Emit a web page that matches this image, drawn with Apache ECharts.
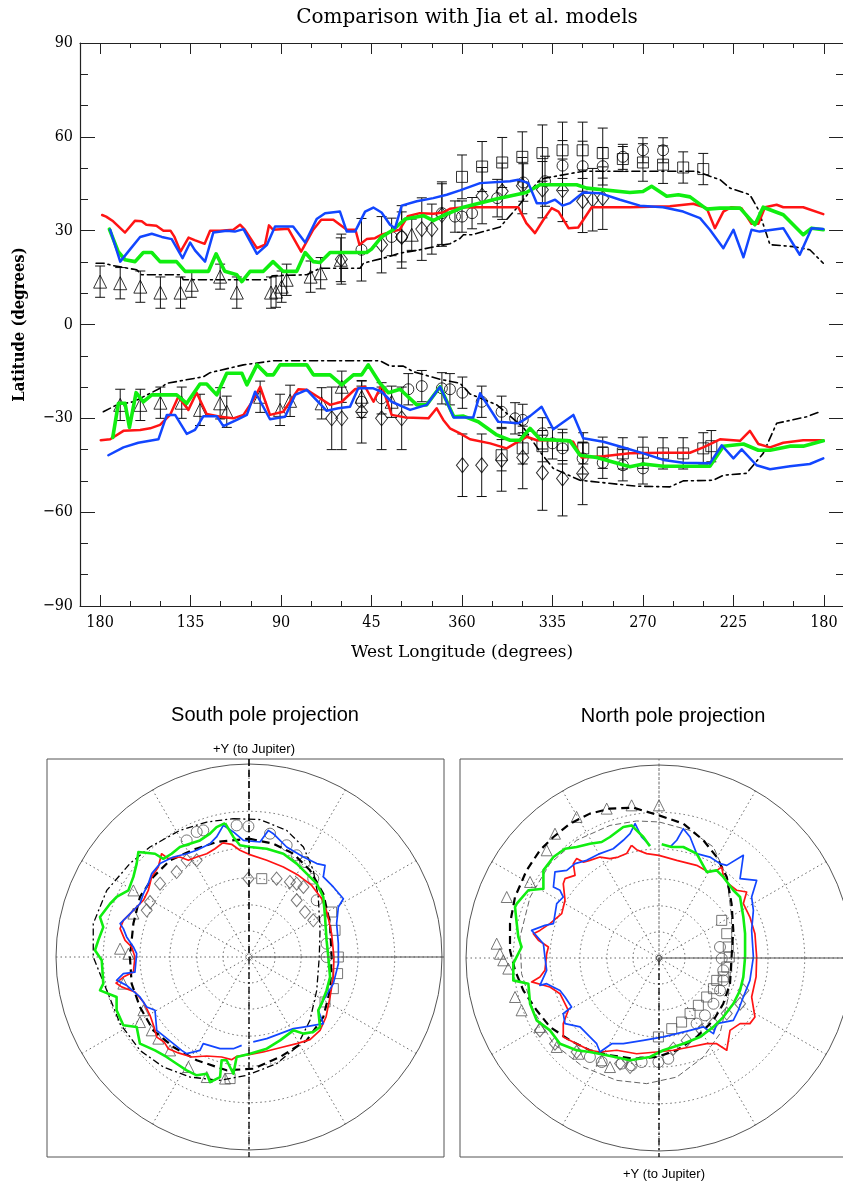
<!DOCTYPE html>
<html>
<head>
<meta charset="utf-8">
<script src="https://cdn.jsdelivr.net/npm/echarts@6/dist/echarts.min.js"></script>
<style>
  html, body { margin: 0; padding: 0; background: #fff; }
  #chart { width: 843px; height: 1183px; }
</style>
</head>
<body>
<div id="chart"></div>
<script>
// ---------------- Latitude vs. longitude panel ----------------
// x values: degrees eastward along the axis from 180°W (0 = 180°W at left, 180 = 0°/360°W, 360 = 180°W at right)
const lonTickPos = [0, 45, 90, 135, 180, 225, 270, 315, 360];
const lonTickLabels = ['180', '135', '90', '45', '360', '335', '270', '225', '180'];
const lonMinorPos = [15, 30, 60, 75, 105, 120, 150, 165, 195, 210, 240, 255, 285, 300, 330, 345];

// Northern oval boundary, model curves [x, latitude]
const nRed = [[1,35],[3,34.5],[6.5,33],[12.4,29.4],[17.4,33.2],[20.7,33],[23,31.9],[28,31.6],[31.5,30],[35,30],[37,28],[40,23.3],[44,27.8],[47,27],[52,25.8],[54.7,30],[59.7,30],[66.3,30.3],[69.6,31.9],[72,30.3],[78,24.4],[82,25.5],[84,31.7],[86,30.3],[93.6,30.6],[100,23.3],[106,30.3],[110,33.5],[116,33.5],[122.7,30.3],[127,30.3],[129,25.5],[132.6,27.3],[136.7,27.6],[140,28.7],[145,29.7],[149,30.3],[153,34.6],[159,35.6],[165.7,35.4],[170.6,35.8],[174,37],[180.7,37.5],[192,37.5],[208,37.5],[212,32.4],[216.3,29.2],[220.5,33.5],[224.6,37.2],[228,36.1],[233,30.8],[237.8,31],[244.5,37.5],[263.5,37.5],[283.4,37.8],[295,38.6],[301.7,37.2],[305.8,30.8],[310,36.1],[314,37.5],[319,37.2],[324,32.2],[327.4,32.2],[330.7,37.5],[336.5,38.3],[339.8,37.5],[349.7,37.5],[359.7,35.3]];
const nGreen = [[4.6,30.5],[9,23.3],[12.4,20.7],[17.4,20.1],[21.5,23],[25.7,23],[29.8,20.1],[38,20.1],[42.3,17],[53.9,17],[57.7,22.6],[62,17],[68,15.9],[70.5,13.7],[74.6,17],[81.2,17],[86,20.1],[91,17],[97.8,17],[102,23],[106,20.1],[109.4,19.8],[114.4,23],[132.6,23],[135,24.1],[140,28],[145.8,30.3],[151.7,33.7],[160.8,34.8],[165.7,33.2],[171.6,35.1],[180.7,37.5],[197,40.1],[212,42.2],[218.8,44.7],[237,44.7],[242,43.6],[263.5,42.2],[270,42.5],[274.3,44.2],[281.8,41],[287.6,41.5],[293.4,40.8],[301.7,36.9],[308.3,37.2],[318.3,37.2],[325.7,31.9],[329.8,37.5],[339.8,35.1],[349.7,28.7],[353.9,30.8],[359.7,30.3]];
const nBlue = [[5,30.3],[10,20.1],[15,24.1],[19.9,28],[25.7,29],[30.7,28],[35.6,27.3],[41,21.2],[44.8,26.2],[47.2,23.7],[52.2,20.1],[56.3,29.4],[63,30],[67,29.7],[71.3,30.5],[78,22.6],[83,25.5],[87,31.3],[96,31.3],[102,26.2],[107.7,33.7],[111.9,35.6],[119.3,36.1],[122.7,29.7],[126.8,29.7],[131.8,36.1],[135.9,37.4],[140,35.8],[144.2,31.9],[146.7,30.8],[150,38],[157.5,39.4],[165.7,40.4],[172.4,41.5],[179,42.9],[189,45.2],[203.9,45.8],[208,46.3],[213,45.2],[217.2,38.8],[222,38.8],[226.3,39.9],[230,38],[233.7,38.8],[240.3,42.2],[248.6,42],[258.6,39.9],[268.5,38],[280,37.5],[290,36.1],[298.4,34],[303.3,30.3],[310,24.4],[315,30.3],[320,21.5],[324,30.3],[328,29.7],[339.8,30.8],[348,22.3],[353.9,30.8],[359.7,30.5]];
const nDashDot = [[-2,19.6],[1.6,19.6],[6.6,18.8],[18.2,17.5],[20.7,15.9],[40,15.9],[41.4,14.3],[83,14.3],[86,15.6],[102.8,15.9],[109.4,18],[129.3,18],[131,19.6],[142.6,21.5],[149,22.8],[157.5,23.7],[169,25.2],[174,25.8],[179,27.5],[180.7,28.7],[185,28.7],[199,31.2],[208,37.8],[213.8,42.6],[218.8,46.3],[221.3,46.8],[240.3,49],[296.7,49],[303.3,47.4],[308.3,46.3],[313.3,43.6],[323.2,41.5],[327.4,36.7],[333.2,25.5],[344.8,24.9],[353,23.9],[359.7,19.6]];

// Northern observations [x, latitude, error]
const nTriangles = [[0,13.7,5],[10,13.2,5],[20,12.1,5],[30,10.2,5],[40,10.2,5],[45.6,12.7,4],[59.7,15.3,4],[68,10.2,5],[85,10.2,5],[87.5,10.5,5],[90.3,12.1,5],[92.8,14.3,5],[104.7,15.3,5],[109.7,16.4,5],[119.7,20.7,7],[155,28.7,5]];
const nDiamonds = [[120,20.9,8],[140,25.5,9],[150,28,10],[160,30.5,10],[165,30.5,8],[170,35,10],[190,41.2,9],[200,42.6,9],[210,44.4,9],[220,43.1,9],[230,42.9,10],[240,39.4,10],[245,39.9,10],[250,40.4,10]];
const nCircles = [[130,23.9,10],[145,28,6],[150,28,8],[170,35.6,10],[176.5,34.5,5],[180,34.5,5],[185,35.6,5],[197.5,40.4,6],[210.5,45.4,6],[221.3,45.8,8],[230,50.8,8],[240,50.6,8],[250,50.6,6],[260,53.6,4],[270,55.7,4],[280,55.7,4]];
const nSquares = [[180,47.2,7],[190,50.5,8],[200,51.8,8],[210,53.6,8],[220,54.8,9],[230,55.7,9],[240,55.7,9],[250,54.8,8],[260,52.9,4],[270,51.8,6],[280,51.1,6],[290,50.2,5],[300,49.7,5]];

// Southern oval boundary, model curves [x, latitude]
const sRed = [[0.3,-37],[5,-36.7],[11.6,-34],[19.9,-33.7],[24.9,-33.2],[29.8,-32.1],[34.8,-28.9],[38.9,-23.1],[43.9,-27.3],[48,-21.8],[53,-28.6],[59.7,-29.5],[66.3,-30],[71.3,-28.9],[76.2,-24.1],[79.6,-19.9],[84.5,-28.9],[91.1,-27.9],[98.6,-20.7],[102.8,-20.9],[109.4,-23.6],[114.4,-25.7],[120.2,-24.7],[126.8,-20.7],[131.8,-19.9],[136,-24.7],[140,-19.3],[145,-28.9],[151.7,-29.7],[163.3,-30],[167.4,-26.8],[170.7,-30.5],[174,-33.2],[179,-34.8],[184,-36.7],[194,-38],[202.2,-39.6],[206.4,-38],[212.2,-35.9],[217.2,-37],[230.4,-37],[235.3,-37.5],[239.5,-42.5],[250.3,-42.1],[263.5,-41.2],[280,-41],[293.4,-41],[300,-39.3],[308.3,-36.7],[318.3,-37.2],[323.2,-34],[327.4,-38.2],[333.2,-39.3],[339.8,-37.8],[349.7,-37],[359.7,-37]];
const sGreen = [[6.3,-36.1],[9.1,-25.2],[12.4,-25.2],[14.6,-32.9],[17.9,-21.8],[21.5,-24.7],[25.7,-22.5],[38.1,-22.5],[43.1,-25.2],[49.7,-19],[53,-19],[58,-22.5],[63,-15.6],[70.5,-15.6],[73,-19.3],[78,-12.9],[83,-16.1],[86.2,-16.1],[89.5,-12.9],[102.8,-12.9],[106.1,-16.1],[114.4,-16.1],[120.2,-19.3],[126,-16.1],[130.1,-16.1],[133.4,-12.9],[139.2,-18.8],[143.4,-21.8],[149.2,-20.7],[157.5,-25.7],[162.4,-25.7],[169.1,-19.9],[175.9,-29.5],[180.7,-29.3],[188.1,-31.1],[197.3,-35.3],[203.9,-37],[208.8,-37],[213.8,-33.2],[218.8,-36.7],[233.7,-37.2],[238.7,-41.8],[247,-42.5],[263.5,-45.5],[270.2,-44.6],[280.2,-45.3],[303.3,-45.3],[310,-38.9],[320,-38.2],[327.4,-40.2],[333.2,-40.2],[343.1,-38.9],[349.7,-38.9],[359.7,-37.2]];
const sBlue = [[4.1,-41.8],[11.6,-39.3],[19,-37.8],[29,-36.7],[33.2,-28.9],[37.3,-28.9],[43.1,-35],[47.2,-33.7],[51.4,-29.3],[58,-29.3],[61.3,-32.5],[68,-30.5],[73,-28.9],[77.1,-21.5],[84.5,-30.3],[92,-29.5],[97,-22.5],[102.8,-20.9],[112.7,-27.6],[118.5,-26.8],[124.3,-26.3],[128.4,-20.4],[135.9,-20.4],[140,-21.5],[145,-24.7],[154.2,-27.3],[162.4,-25.7],[169.1,-19.9],[175.9,-29.7],[185.6,-29.7],[189,-22],[198,-31.1],[208,-31.6],[213.8,-29.3],[219.6,-26.3],[225.4,-33.5],[235.4,-28.9],[240.3,-36.4],[250.3,-37.5],[260.3,-39.3],[270.2,-41.2],[280.2,-43.3],[290,-44.2],[303.3,-44.4],[309.2,-38.6],[315,-42.8],[319.1,-39.9],[326.5,-45],[333.2,-46.3],[343.1,-45.3],[353,-44.6],[359.7,-42.8]];
const sDashDot = [[1.6,-27.9],[8.3,-25.7],[16.6,-24.7],[29.8,-20.4],[33.2,-18.8],[51.4,-16.7],[54.7,-15.4],[71.3,-12.9],[86.2,-11.6],[139.2,-11.6],[144.2,-13.3],[150.8,-13.3],[155.8,-15.1],[169.1,-17.5],[179,-18.8],[184,-22.2],[197.3,-25.7],[210.5,-32.9],[218.8,-40.7],[225.4,-46],[238.7,-49.8],[266.8,-51.7],[283.4,-51.9],[290,-50],[305,-49.8],[310,-48.2],[321.5,-47.6],[329.8,-41.2],[336.5,-31.6],[351.4,-29.5],[358,-27.9]];

// Southern observations [x, latitude, error]
const sTriangles = [[10,-25.7,5],[20,-25.7,5],[30,-25,5],[40.6,-25,5],[49.7,-27.3,5],[59.7,-25.2,5],[63,-27.9,5],[79.6,-23.1,5],[89.5,-27.3,5],[94.5,-24.4,5],[110.2,-25.2,5],[120.2,-19.9,5],[130.1,-23.1,5],[145,-24.7,5]];
const sDiamonds = [[115.2,-30,10],[120.2,-30,10],[130.1,-27.9,10],[140,-30,10],[150,-30,10],[180.2,-45,10],[189.8,-45,10],[199.7,-43.3,10],[210.2,-42.5,10],[220,-47.4,12],[230,-49.2,12],[240,-47.6,10]];
const sCircles = [[130,-24.7,5],[140,-23.6,5],[153.3,-20.7,5],[160,-19.7,5],[170,-20.4,5],[174,-20.7,5],[180.2,-21.8,5],[189.8,-24.7,5],[199.7,-27.9,5],[206.4,-30,5],[210.2,-30.5,5],[220,-34.8,5],[225,-38,5],[230,-39.6,5],[240,-42.8,5],[250,-44.2,5],[260,-45,5],[270,-46,5]];
const sSquares = [[199.7,-41.8,5],[210.2,-39.6,5],[220,-38.9,5],[230,-38.5,5],[240.3,-39.6,5],[250,-41,5],[260,-41.2,5],[270,-41,5],[280,-41.2,5],[290,-41.2,5],[300,-39.6,5],[304,-38.9,5]];

// ---------------- Polar projections ----------------
// Points are projected map coordinates [x, y] in thousandths of the outer circle radius
// (+x to the right, +y toward Jupiter in the south view / away from it in the north view).
const polarRings = [0.135, 0.27, 0.41, 0.565, 0.755];

const spRed = [[-136,591],[-90,584],[-47,553],[0,532],[92,501],[178,466],[256,423],[325,371],[377,302],[406,225],[428,121],[440,0],[437,-104],[420,-207],[399,-311],[368,-380],[316,-428],[247,-449],[161,-470],[74,-492],[0,-506],[-64,-515],[-90,-532],[-142,-518],[-219,-513],[-297,-518],[-366,-497],[-418,-475],[-440,-440],[-478,-415],[-492,-363],[-513,-302],[-547,-233],[-591,-181],[-660,-155],[-689,-135],[-651,-104],[-599,-78],[-591,0],[-608,52],[-642,86],[-668,147],[-651,190],[-599,242],[-547,294],[-522,345],[-504,415],[-470,466],[-453,535],[-418,510],[-358,518],[-314,501],[-271,518],[-219,535],[-176,561]];
const spGreen = [[-124,694],[-81,622],[-47,579],[5,570],[92,561],[178,535],[247,484],[299,432],[351,380],[385,311],[394,207],[402,86],[411,0],[420,-104],[402,-173],[376,-242],[359,-276],[368,-363],[333,-389],[282,-397],[230,-380],[161,-432],[92,-475],[5,-501],[-64,-518],[-81,-605],[-116,-535],[-142,-535],[-150,-622],[-202,-648],[-219,-605],[-271,-613],[-323,-587],[-375,-553],[-427,-518],[-487,-484],[-565,-449],[-582,-363],[-651,-354],[-686,-276],[-686,-207],[-772,-173],[-755,-138],[-763,-17],[-798,35],[-781,86],[-755,155],[-772,207],[-720,276],[-686,311],[-625,345],[-599,415],[-582,484],[-573,544],[-487,535],[-444,509],[-401,535],[-358,570],[-306,587],[-254,604],[-202,639],[-168,673]];
const spBlue = [[22,-440],[92,-423],[161,-397],[230,-371],[282,-363],[385,-345],[359,-276],[385,-225],[437,-138],[463,-35],[463,69],[454,173],[463,259],[489,302],[437,363],[385,415],[394,475],[351,484],[282,518],[195,570],[126,639],[100,656],[57,596],[-29,604],[-81,648],[-133,682],[-168,622],[-202,587],[-271,553],[-323,535],[-392,518],[-427,501],[-461,484],[-504,432],[-522,380],[-547,328],[-565,276],[-634,207],[-668,173],[-651,147],[-634,104],[-599,52],[-582,17],[-591,-78],[-651,-86],[-686,-121],[-634,-147],[-565,-207],[-530,-259],[-487,-276],[-478,-380],[-392,-449],[-349,-484],[-323,-501],[-254,-484],[-237,-449],[-150,-475],[-81,-475],[-38,-458]];
const spDashed = [[0,613],[126,587],[230,535],[316,449],[385,328],[420,173],[428,0],[420,-173],[385,-311],[299,-432],[161,-518],[22,-579],[-116,-587],[-271,-535],[-392,-466],[-496,-380],[-565,-259],[-608,-138],[-617,0],[-599,173],[-565,311],[-496,415],[-409,501],[-288,556],[-168,596]];
const spDashDot = [[-81,717],[57,712],[195,656],[282,570],[333,449],[359,311],[368,138],[364,0],[351,-173],[316,-328],[247,-466],[143,-553],[-12,-613],[-150,-639],[-306,-622],[-444,-570],[-565,-484],[-668,-345],[-737,-173],[-807,0],[-807,173],[-737,345],[-617,484],[-513,570],[-358,656],[-219,699]];
const spCircles = [[-323,604],[-271,648],[-237,656],[-64,682],[-3,677],[109,639],[195,579],[247,527],[290,492],[333,406],[351,294],[394,190],[402,69],[402,0]];
const spSquares = [[66,406],[428,233],[446,138],[463,0],[459,-86],[437,-164],[394,-233],[-98,-630]];
const spDiamonds = [[-3,406],[143,406],[212,389],[247,380],[282,363],[247,294],[290,233],[333,190],[-375,440],[-323,501],[-271,501],[-461,380],[-513,285],[-530,242]];
const spTriangles = [[-599,345],[-599,225],[-668,43],[-625,17],[-651,-138],[-547,-276],[-565,-337],[-504,-380],[-470,-423],[-409,-484],[-314,-570],[-219,-622],[-124,-630]];

const npRed = [[-142,584],[-116,561],[-64,541],[0,532],[92,506],[195,480],[256,446],[299,454],[325,471],[333,428],[359,385],[402,351],[454,342],[437,282],[471,212],[497,126],[506,5],[503,-98],[480,-202],[497,-306],[471,-340],[420,-340],[368,-375],[351,-478],[299,-444],[247,-444],[161,-461],[74,-478],[-12,-487],[-116,-496],[-219,-478],[-306,-487],[-358,-478],[-427,-444],[-496,-409],[-496,-340],[-470,-271],[-513,-185],[-565,-150],[-660,-124],[-617,-98],[-591,-64],[-582,22],[-573,57],[-625,92],[-651,126],[-617,143],[-565,178],[-504,230],[-487,299],[-496,385],[-487,411],[-435,428],[-444,489],[-427,515],[-392,497],[-358,506],[-306,523],[-254,515],[-211,523],[-168,541]];
const npBlue = [[-47,584],[-90,627],[-124,696],[-150,644],[-185,610],[-237,566],[-306,541],[-375,506],[-435,489],[-478,454],[-539,446],[-547,368],[-513,351],[-496,316],[-530,282],[-547,178],[-591,169],[-660,143],[-599,74],[-591,5],[-582,-64],[-617,-142],[-582,-133],[-513,-168],[-487,-202],[-453,-254],[-496,-288],[-487,-340],[-409,-357],[-358,-409],[-323,-444],[-306,-487],[-245,-444],[-185,-444],[-81,-427],[22,-409],[92,-392],[161,-375],[230,-357],[282,-392],[299,-340],[385,-323],[411,-271],[437,-202],[471,-116],[489,5],[480,143],[489,247],[480,316],[506,402],[420,411],[437,532],[351,480],[316,489],[264,523],[195,541],[161,627],[126,670],[92,610],[57,575]];
const npGreen = [[-47,579],[-81,627],[-116,661],[-142,687],[-185,679],[-254,627],[-297,601],[-358,592],[-427,575],[-487,566],[-547,523],[-599,454],[-599,359],[-677,351],[-737,282],[-746,264],[-737,178],[-729,109],[-712,57],[-755,-29],[-755,-116],[-677,-133],[-668,-237],[-634,-323],[-565,-375],[-513,-444],[-427,-478],[-358,-487],[-271,-504],[-150,-530],[-47,-513],[22,-478],[126,-444],[212,-409],[282,-357],[333,-306],[385,-237],[420,-168],[437,-98],[446,5],[446,126],[437,212],[420,316],[385,351],[333,420],[299,454],[247,446],[195,541],[126,575],[66,575],[14,589]];
const npDashed = [[0,739],[126,696],[230,610],[299,523],[351,420],[376,282],[385,143],[376,5],[368,-133],[333,-237],[282,-323],[195,-409],[92,-478],[-12,-513],[-133,-522],[-254,-504],[-358,-478],[-461,-427],[-565,-357],[-634,-271],[-703,-168],[-746,-64],[-772,40],[-772,178],[-746,316],[-686,454],[-617,558],[-547,627],[-461,696],[-358,748],[-254,774],[-133,779]];
const npThin = [[0,705],[161,661],[282,575],[351,420],[376,212],[376,5],[359,-202],[316,-392],[230,-513],[92,-617],[-64,-651],[-219,-634],[-392,-565],[-547,-444],[-651,-271],[-712,-81],[-720,109],[-668,316],[-565,489],[-427,610],[-254,687],[-116,710]];
const npTriangles = [[-142,791],[0,791],[-271,774],[-427,731],[-539,644],[-582,558],[-668,394],[-789,316],[-841,74],[-824,22],[-807,-12],[-781,-55],[-746,-202],[-712,-271],[-617,-357],[-530,-461],[-418,-496],[-297,-530],[-254,-565]];
const npSquares = [[325,195],[351,126],[359,57],[364,5],[351,-47],[333,-98],[299,-116],[282,-159],[247,-202],[204,-245],[161,-288],[117,-332],[66,-366],[-3,-409]];
const npCircles = [[316,57],[325,-3],[333,-64],[333,-116],[316,-168],[282,-237],[238,-297],[195,-340],[-358,-513],[-297,-539],[-193,-547],[-142,-556],[-90,-539],[-3,-539],[48,-522]];
const npDiamonds = [[437,-168],[420,-237],[351,-288],[282,-340],[221,-375],[143,-427],[74,-470],[-150,-565],[-202,-547],[-427,-487],[-539,-444],[-617,-375]];

// ---------------- Layout & styles ----------------
const SERIF = 'DejaVu Serif Condensed, DejaVu Serif, serif';
const SANS = 'Liberation Sans, Arial, sans-serif';
const RED = '#ff1414', GREEN = '#10ee10', BLUE = '#1246ff';
const GRID = { left: 80, top: 43, width: 764, height: 563 };
const SOUTH = { cx: 249, cy: 957, r: 193, box: [47, 759, 397, 398] };
const NORTH = { cx: 659, cy: 958, r: 193, box: [460, 759, 404, 398] };

const chart = echarts.init(document.getElementById('chart'), null, { renderer: 'canvas' });

function lineSeries(data, color, width, type, z) {
  return {
    type: 'line', xAxisIndex: 0, yAxisIndex: 0, data: data,
    showSymbol: false, symbol: 'none', silent: true, animation: false, z: z || 3,
    lineStyle: { color: color, width: width, type: type || 'solid', cap: 'round', join: 'round' }
  };
}
function errorBars(data) {
  return {
    type: 'custom', xAxisIndex: 0, yAxisIndex: 0, data: data, silent: true, animation: false, z: 1,
    encode: { x: 0, y: 1 },
    renderItem: function (params, api) {
      const x = api.value(0), y = api.value(1), e = api.value(2);
      const hi = api.coord([x, y + e]);
      const lo = api.coord([x, y - e]);
      const w = 5;
      const st = { stroke: '#111', lineWidth: 1 };
      return {
        type: 'group', children: [
          { type: 'line', shape: { x1: hi[0], y1: hi[1], x2: lo[0], y2: lo[1] }, style: st },
          { type: 'line', shape: { x1: hi[0] - w, y1: hi[1], x2: hi[0] + w, y2: hi[1] }, style: st },
          { type: 'line', shape: { x1: lo[0] - w, y1: lo[1], x2: lo[0] + w, y2: lo[1] }, style: st }
        ]
      };
    }
  };
}
function markers(data, symbol, size) {
  return {
    type: 'scatter', xAxisIndex: 0, yAxisIndex: 0, silent: true, animation: false, z: 2,
    data: data.map(d => [d[0], d[1]]), symbol: symbol, symbolSize: size,
    itemStyle: { color: 'rgba(255,255,255,0)', borderColor: '#000', borderWidth: 1 }
  };
}

// projected [x, y] (thousandths of radius) -> [radius, angle]
function toPolar(pts, closed) {
  const out = pts.map(p => {
    const r = Math.hypot(p[0], p[1]) / 1000;
    const a = (Math.atan2(p[1], p[0]) * 180 / Math.PI + 360) % 360;
    return [r, a];
  });
  if (closed) out.push(out[0]);
  return out;
}
function polarLine(pts, closed, polarIndex, color, width, type, z) {
  return {
    type: 'line', coordinateSystem: 'polar', polarIndex: polarIndex, data: toPolar(pts, closed),
    showSymbol: false, symbol: 'none', silent: true, animation: false, z: z || 3, smooth: false,
    lineStyle: { color: color, width: width, type: type || 'solid', join: 'round' }
  };
}
function polarMarkers(pts, polarIndex, symbol, size) {
  return {
    type: 'scatter', coordinateSystem: 'polar', polarIndex: polarIndex, data: toPolar(pts, false),
    symbol: symbol, symbolSize: size, silent: true, animation: false, z: 2,
    itemStyle: { color: 'rgba(255,255,255,0)', borderColor: '#555', borderWidth: 1 }
  };
}

function xAxisDef(position, values, len, showLine, withLabel) {
  return {
    type: 'value', gridIndex: 0, position: position, min: -10, max: 370,
    axisLine: { show: showLine, onZero: false, lineStyle: { color: '#222', width: 1.2 } },
    axisTick: { show: true, inside: true, length: len, customValues: values, lineStyle: { color: '#222', width: 1 } },
    axisLabel: withLabel ? {
      show: true, customValues: lonTickPos, margin: 9, color: '#000', fontFamily: SERIF, fontSize: 16,
      formatter: v => lonTickLabels[lonTickPos.indexOf(Math.round(v))] || ''
    } : { show: false },
    splitLine: { show: false },
    name: withLabel ? 'West Longitude (degrees)' : '',
    nameLocation: 'middle', nameGap: 38,
    nameTextStyle: { fontFamily: 'DejaVu Serif, serif', fontSize: 17, color: '#000' }
  };
}
function yAxisDef(position, withLabel) {
  return {
    type: 'value', gridIndex: 0, position: position, min: -90, max: 90, interval: 30,
    axisLine: { show: true, onZero: false, lineStyle: { color: '#222', width: 1.2 } },
    axisTick: { show: true, inside: true, length: 15, lineStyle: { color: '#222', width: 1 } },
    minorTick: { show: true, splitNumber: 3, length: 8, lineStyle: { color: '#222', width: 1 } },
    axisLabel: withLabel ? {
      show: true, margin: 7, color: '#000', fontFamily: SERIF, fontSize: 16,
      formatter: v => String(v).replace('-', '\u2212')
    } : { show: false },
    splitLine: { show: false },
    name: withLabel ? 'Latitude (degrees)' : '',
    nameLocation: 'middle', nameRotate: 90, nameGap: 52,
    nameTextStyle: { fontFamily: SERIF, fontSize: 16.5, fontWeight: 'bold', color: '#000' }
  };
}
function angleAxisDef(i) {
  return {
    polarIndex: i, type: 'value', min: 0, max: 360, interval: 30, startAngle: 0, clockwise: false,
    axisLine: { show: true, lineStyle: { color: '#555', width: 1 } },
    axisTick: { show: false }, axisLabel: { show: false },
    splitLine: { show: true, lineStyle: { color: '#666', width: 1, type: [1.5, 3] } }
  };
}
function radiusAxisDef(i) {
  return {
    polarIndex: i, type: 'value', min: 0, max: 1,
    axisLine: { show: false },
    axisTick: { show: false, customValues: polarRings },
    axisLabel: { show: false },
    splitLine: { show: true, lineStyle: { color: '#666', width: 1, type: [1.5, 3] } }
  };
}

function frame(p) {
  return { type: 'rect', shape: { x: p.box[0], y: p.box[1], width: p.box[2], height: p.box[3] },
    style: { fill: 'none', stroke: '#555', lineWidth: 1 }, silent: true, z: 0 };
}
function seg(x1, y1, x2, y2, stroke, width, dash) {
  return { type: 'line', shape: { x1: x1, y1: y1, x2: x2, y2: y2 },
    style: { stroke: stroke, lineWidth: width, lineDash: dash || null }, silent: true, z: 100 };
}

const option = {
  backgroundColor: '#fff',
  animation: false,
  title: [
    { text: 'Comparison with Jia et al. models', left: 462, top: 3, textAlign: 'center',
      textStyle: { fontFamily: 'DejaVu Serif, serif', fontSize: 20, fontWeight: 'normal', color: '#000' } },
    { text: 'South pole projection', left: 260, top: 700, textAlign: 'center',
      textStyle: { fontFamily: SANS, fontSize: 20, fontWeight: 'normal', color: '#000' } },
    { text: 'North pole projection', left: 668, top: 701, textAlign: 'center',
      textStyle: { fontFamily: SANS, fontSize: 20, fontWeight: 'normal', color: '#000' } },
    { text: '+Y (to Jupiter)', left: 249, top: 738, textAlign: 'center',
      textStyle: { fontFamily: SANS, fontSize: 13, fontWeight: 'normal', color: '#000' } },
    { text: '+Y (to Jupiter)', left: 659, top: 1163, textAlign: 'center',
      textStyle: { fontFamily: SANS, fontSize: 13, fontWeight: 'normal', color: '#000' } }
  ],
  grid: [{ left: GRID.left, top: GRID.top, width: GRID.width, height: GRID.height, outerBoundsMode: 'none', containLabel: false }],
  xAxis: [
    xAxisDef('bottom', lonTickPos, 11, true, true),
    xAxisDef('bottom', lonMinorPos, 5, false, false),
    xAxisDef('top', lonTickPos, 11, true, false),
    xAxisDef('top', lonMinorPos, 5, false, false)
  ],
  yAxis: [yAxisDef('left', true), yAxisDef('right', false)],
  polar: [
    { center: [SOUTH.cx, SOUTH.cy], radius: SOUTH.r },
    { center: [NORTH.cx, NORTH.cy], radius: NORTH.r }
  ],
  angleAxis: [angleAxisDef(0), angleAxisDef(1)],
  radiusAxis: [radiusAxisDef(0), radiusAxisDef(1)],
  graphic: [
    frame(SOUTH), frame(NORTH),
    // south view reference axes
    seg(SOUTH.cx, SOUTH.box[1], SOUTH.cx, SOUTH.cy, '#000', 1.6, [7, 4]),
    seg(SOUTH.cx, SOUTH.cy, SOUTH.cx, SOUTH.box[1] + SOUTH.box[3], '#000', 1.3, [7, 3, 2, 3]),
    seg(SOUTH.cx, SOUTH.cy, SOUTH.box[0] + SOUTH.box[2], SOUTH.cy, '#555', 1.2),
    // north view reference axes
    seg(NORTH.cx, NORTH.box[1], NORTH.cx, NORTH.cy, '#666', 1, [1.5, 3]),
    seg(NORTH.cx, NORTH.cy, NORTH.cx, NORTH.box[1] + NORTH.box[3], '#000', 1.3, [7, 3, 2, 3]),
    seg(NORTH.cx, NORTH.cy, NORTH.box[0] + NORTH.box[2], NORTH.cy, '#555', 1.2),
    { type: 'circle', shape: { cx: NORTH.cx, cy: NORTH.cy, r: 2.5 }, style: { fill: 'none', stroke: '#555', lineWidth: 1 }, silent: true, z: 100 }
  ],
  series: [
    // observations
    errorBars(nTriangles), errorBars(nDiamonds), errorBars(nCircles), errorBars(nSquares),
    errorBars(sTriangles), errorBars(sDiamonds), errorBars(sCircles), errorBars(sSquares),
    markers(nTriangles, 'triangle', 13), markers(nDiamonds, 'diamond', [12, 15]),
    markers(nCircles, 'circle', 11), markers(nSquares, 'rect', 11),
    markers(sTriangles, 'triangle', 13), markers(sDiamonds, 'diamond', [12, 15]),
    markers(sCircles, 'circle', 11), markers(sSquares, 'rect', 11),
    // models
    lineSeries(nDashDot, '#000', 1.6, [8, 4, 2, 4]),
    lineSeries(sDashDot, '#000', 1.6, [8, 4, 2, 4]),
    lineSeries(nRed, RED, 2.5), lineSeries(sRed, RED, 2.5),
    lineSeries(nGreen, GREEN, 3.6, 'solid', 4), lineSeries(sGreen, GREEN, 3.6, 'solid', 4),
    lineSeries(nBlue, BLUE, 2.5, 'solid', 5), lineSeries(sBlue, BLUE, 2.5, 'solid', 5),

    // south polar view
    polarMarkers(spCircles, 0, 'circle', 11), polarMarkers(spSquares, 0, 'rect', 10),
    polarMarkers(spDiamonds, 0, 'diamond', [11, 13]), polarMarkers(spTriangles, 0, 'triangle', 11),
    polarLine(spDashDot, true, 0, '#000', 1.3, [7, 3, 2, 3]),
    polarLine(spDashed, true, 0, '#000', 2.2, [8, 5]),
    polarLine(spRed, true, 0, RED, 1.7),
    polarLine(spBlue, false, 0, BLUE, 1.7),
    polarLine(spGreen, true, 0, GREEN, 2.6),

    // north polar view
    polarMarkers(npCircles, 1, 'circle', 11), polarMarkers(npSquares, 1, 'rect', 10),
    polarMarkers(npDiamonds, 1, 'diamond', [11, 13]), polarMarkers(npTriangles, 1, 'triangle', 11),
    polarLine(npThin, true, 1, '#666', 1, [6, 3]),
    polarLine(npDashed, true, 1, '#000', 2.2, [8, 5]),
    polarLine(npRed, true, 1, RED, 1.7),
    polarLine(npBlue, false, 1, BLUE, 1.7),
    polarLine(npGreen, false, 1, GREEN, 2.6)
  ]
};
chart.setOption(option);
</script>
</body>
</html>
